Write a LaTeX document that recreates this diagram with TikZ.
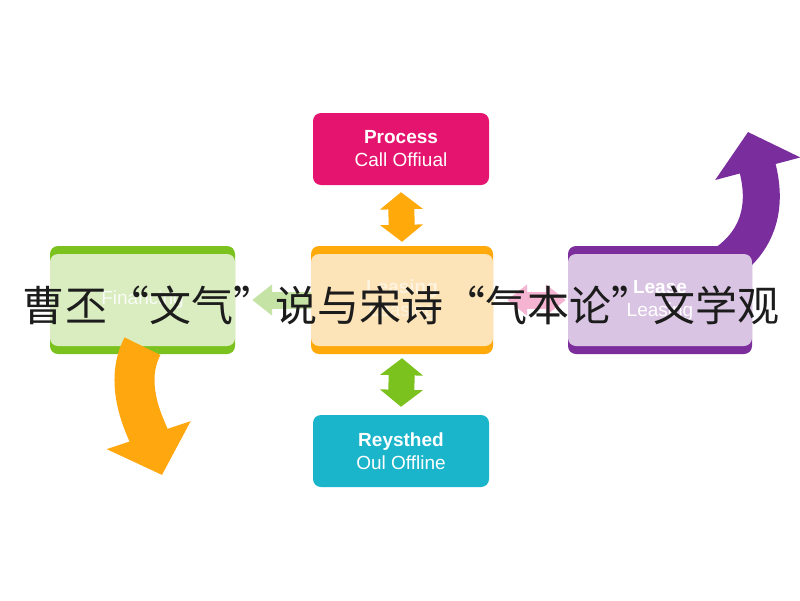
\documentclass[tikz,border=0pt]{standalone}
\usepackage{fontspec}
\setmainfont{Liberation Sans}
\newfontfamily\cjk{Noto Sans CJK SC}
\usetikzlibrary{arrows.meta}
\definecolor{magentaB}{HTML}{E5156F}
\definecolor{cyanB}{HTML}{1AB4CB}
\definecolor{orangeB}{HTML}{FFA90A}
\definecolor{orangeL}{HTML}{FDE3B8}
\definecolor{greenB}{HTML}{7CC21F}
\definecolor{greenL}{HTML}{DAEDC0}
\definecolor{purpleB}{HTML}{7B2D9C}
\definecolor{purpleL}{HTML}{DAC4E3}
\definecolor{greenA}{HTML}{C6E3A6}
\definecolor{pinkA}{HTML}{F5B4D2}
\definecolor{orangeC}{HTML}{FFA70F}
\definecolor{purpleC}{HTML}{7A2E9E}
\definecolor{titlec}{HTML}{1C1C1C}
\tikzset{
  solidbox/.style={rounded corners=8pt, fill=#1, text=white, align=center,
    minimum width=176pt, minimum height=72pt, inner sep=0pt,
    font=\fontsize{19}{23}\selectfont},
  barbox/.style n args={2}{rounded corners=8pt, fill=#1, text=white, align=center,
    minimum height=108pt, inner sep=0pt, font=\fontsize{19}{23}\selectfont,
    path picture={\fill[#2] ([yshift=-8pt]path picture bounding box.north west)
      rectangle ([yshift=8pt]path picture bounding box.south east);}},
  vdouble/.style={line width=26pt,
    {Triangle[width=42pt,length=17pt]}-{Triangle[width=42pt,length=17pt]}},
}
\begin{document}
\begin{tikzpicture}[x=1pt,y=-1pt]
\fill[white] (0,0) rectangle (800,600);
\useasboundingbox (0,0) rectangle (800,600);

\coordinate (ptip) at (748,132);
\coordinate (pstart) at (718,268);
\coordinate (otip) at (162,475);

% purple curved arrow (under the right box)
\draw[purpleC, line width=37pt, -{Triangle[width=86pt,length=38pt]}]
  (pstart) .. controls (752,248) and (770,215) .. (ptip);

% boxes
\node[solidbox=magentaB, minimum width=176pt] (top) at (401,149)
  {\textbf{Process}\\Call Offiual};
\node[solidbox=cyanB, minimum width=176pt] (bottom) at (401,451)
  {\textbf{Reysthed}\\Oul Offline};
\node[barbox={greenB}{greenL}, minimum width=185pt] (left) at (142.5,300)
  {\textcolor{white!85!greenL}{Financing}};
\node[barbox={orangeB}{orangeL}, minimum width=182pt] (center) at (402,300)
  {\textcolor{white!55!orangeL}{\textbf{Leasing}}\\\textcolor{white!55!orangeL}{Leasing}};
\node[barbox={purpleB}{purpleL}, minimum width=184pt] (right) at (660,300)
  {\textbf{Lease}\\Leasing};

% orange curved arrow
\draw[orangeC, line width=40pt, -{Triangle[width=86pt,length=42pt]}]
  ([yshift=8pt]left.south) .. controls (122,385) and (147,430) .. (otip);

% small connectors
\draw[vdouble, orangeB] ([yshift=-7pt]top.south) -- ([yshift=4pt]center.north);
\draw[vdouble, greenB] ([yshift=-4pt]center.south) -- ([yshift=8pt]bottom.north);
\draw[greenA, line width=17pt, -{Triangle[width=30pt,length=20pt]}]
  (center.west) -- ([xshift=17pt]left.east);
\draw[pinkA, line width=17pt,
  {Triangle[width=30pt,length=20pt]}-{Triangle[width=30pt,length=20pt]}]
  ([xshift=14pt]center.east) -- ([xshift=-2pt]right.west);

% overlay title
\node[font=\cjk\fontsize{42}{42}\selectfont, text=titlec, inner sep=0pt] (title)
  at (401,305) {曹丕“文气”说与宋诗“气本论”文学观};
\end{tikzpicture}
\end{document}
